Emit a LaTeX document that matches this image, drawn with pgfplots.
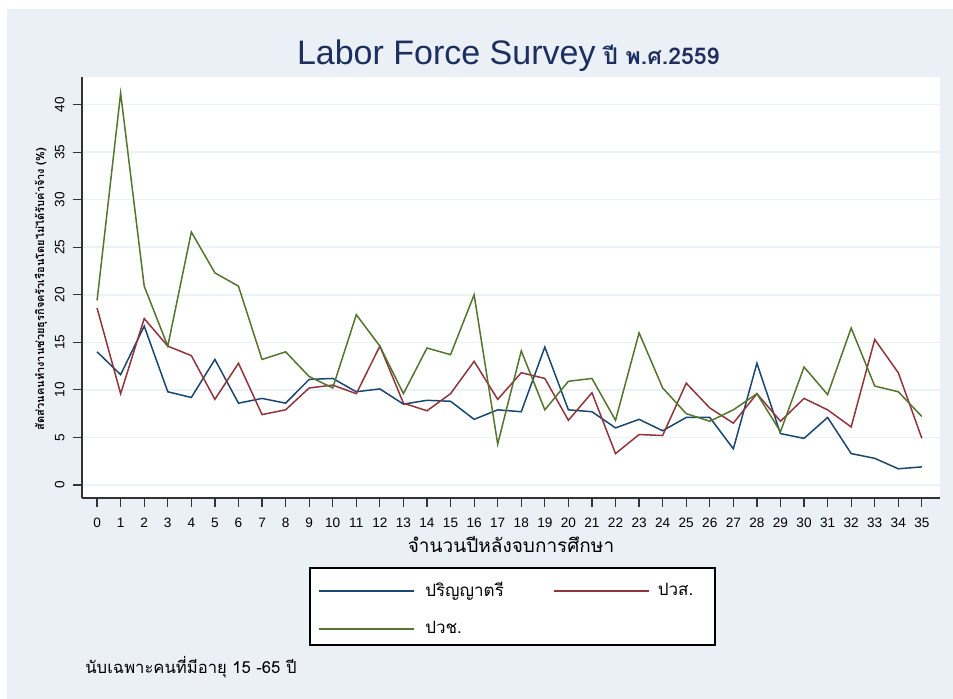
\documentclass[border=0pt]{standalone}
\usepackage{pgfplots}
\pgfplotsset{compat=1.18}
\usepackage{fontspec}
\setmainfont{Liberation Sans}
\newfontfamily\thai[Script=Thai]{Loma}

\definecolor{bg}{RGB}{234,240,245}
\definecolor{gridc}{RGB}{236,241,247}
\definecolor{snavy}{RGB}{26,71,111}
\definecolor{smaroon}{RGB}{144,53,59}
\definecolor{sgreen}{RGB}{85,117,47}
\definecolor{titlec}{RGB}{28,47,94}

\begin{document}
\begin{tikzpicture}[x=0.5pt,y=0.5pt]
\fill[white] (0,0) rectangle (953,699);
\fill[bg] (7,0) rectangle (953,690);
\useasboundingbox (0,0) rectangle (953,699);

% title
\node[anchor=base east, inner sep=0, text=titlec, font=\fontsize{17}{20}\selectfont] at (596,634) {Labor Force Survey};
\node[anchor=base west, inner sep=0, text=titlec, font=\thai\bfseries\fontsize{11.5}{13}\selectfont] at (603,634) {ปี พ.ศ.2559};

% legend frame
\fill[white] (310,131) rectangle (715,54);
\draw[black, line width=0.6pt] (310,131) rectangle (715,54);

\begin{axis}[
    at={(41pt,100.5pt)}, anchor=south west,
    scale only axis, width=429pt, height=210.5pt,
    xmin=-0.64, xmax=35.77, ymin=-1.37, ymax=42.9,
    xtick={0,1,...,35}, ytick={0,5,...,40},
    axis lines*=left,
    axis line style={line width=1pt, black!80},
    tick align=outside, major tick length=4.5pt,
    tick style={line width=0.6pt, black!80},
    ymajorgrids, grid style={gridc, line width=0.8pt},
    axis background/.style={fill=white},
    /pgf/number format/assume math mode=true,
    xticklabel style={font=\fontsize{6.8}{7}\selectfont, yshift=-2pt},
    yticklabel style={font=\fontsize{6.8}{7}\selectfont, rotate=90, anchor=south, inner ysep=4pt},
    legend columns=2,
    legend cell align=left,
    legend style={at={(0.4965,-0.2648)}, anchor=center, draw=none, fill=none,
        inner xsep=0pt, inner ysep=0pt, row sep=7pt,
        font=\thai\fontsize{8.5}{10}\selectfont,
        /tikz/every even column/.append style={column sep=0pt}},
    legend image code/.code={\draw[#1, line width=0.8pt] (0pt,0pt) -- (47.5pt,0pt);},
    every axis plot/.append style={line width=0.75pt},
]
\addplot[snavy] coordinates {
 (0,14.0) (1,11.6) (2,16.7) (3,9.8) (4,9.2) (5,13.2) (6,8.6) (7,9.1) (8,8.6) (9,11.1)
 (10,11.2) (11,9.8) (12,10.1) (13,8.5) (14,8.9) (15,8.8) (16,6.9) (17,7.9) (18,7.7) (19,14.5)
 (20,7.9) (21,7.7) (22,6.0) (23,6.9) (24,5.7) (25,7.1) (26,7.1) (27,3.8) (28,12.8) (29,5.4)
 (30,4.9) (31,7.1) (32,3.3) (33,2.8) (34,1.7) (35,1.9)
};
\addlegendentry{\hspace{3pt}\makebox[62pt][l]{ปริญญาตรี}}
\addplot[smaroon] coordinates {
 (0,18.6) (1,9.6) (2,17.5) (3,14.6) (4,13.6) (5,9.0) (6,12.8) (7,7.4) (8,7.9) (9,10.2)
 (10,10.5) (11,9.6) (12,14.6) (13,8.6) (14,7.8) (15,9.6) (16,13.0) (17,9.0) (18,11.8) (19,11.2)
 (20,6.8) (21,9.7) (22,3.3) (23,5.3) (24,5.2) (25,10.7) (26,8.1) (27,6.5) (28,9.6) (29,6.7)
 (30,9.1) (31,7.9) (32,6.1) (33,15.3) (34,11.8) (35,4.9)
};
\addlegendentry{\hspace{2pt}ปวส.}
\addplot[sgreen] coordinates {
 (0,19.4) (1,41.2) (2,20.9) (3,14.6) (4,26.6) (5,22.3) (6,20.9) (7,13.2) (8,14.0) (9,11.4)
 (10,10.2) (11,17.9) (12,14.6) (13,9.6) (14,14.4) (15,13.7) (16,20.0) (17,4.3) (18,14.1) (19,7.9)
 (20,10.9) (21,11.2) (22,6.8) (23,16.0) (24,10.2) (25,7.5) (26,6.7) (27,7.9) (28,9.6) (29,5.6)
 (30,12.4) (31,9.5) (32,16.5) (33,10.4) (34,9.8) (35,7.2)
};
\addlegendentry{\hspace{3pt}ปวช.}
\end{axis}

% axis titles and note
\node[rotate=90, inner sep=0, font=\thai\bfseries\fontsize{5.5}{7}\selectfont] at (41,410) {สัดส่วนคนทำงานช่วยธุรกิจครัวเรือนโดยไม่ได้รับค่าจ้าง (\%)};
\node[inner sep=0, font=\thai\fontsize{9.5}{11}\selectfont] at (511,154) {จำนวนปีหลังจบการศึกษา};
\node[anchor=base west, inner sep=0, font=\thai\fontsize{8.3}{10}\selectfont] at (85,25) {นับเฉพาะคนที่มีอายุ 15 -65 ปี};
\end{tikzpicture}
\end{document}
